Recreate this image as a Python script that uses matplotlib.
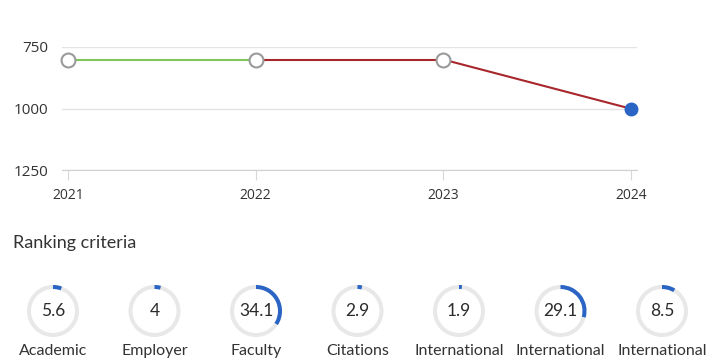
import matplotlib.pyplot as plt
from matplotlib.patches import Wedge

plt.rcParams['font.family'] = ['Lato', 'DejaVu Sans']

# rank history
years = [2021, 2022, 2023, 2024]
ranks = [801, 801, 801, 1001]
seg_colors = ['#7cc65a', '#a8272d', '#a8272d']

# ranking criteria scores
criteria = ['Academic', 'Employer', 'Faculty', 'Citations',
            'International', 'International', 'International']
scores = [5.6, 4, 34.1, 2.9, 1.9, 29.1, 8.5]

fig = plt.figure(figsize=(7.2, 3.6), dpi=100)

# --- line chart ---
ax = fig.add_axes([62/720, 1 - 170/360, 575/720, 123/360])
for i in range(len(years) - 1):
    ax.plot(years[i:i+2], ranks[i:i+2], color=seg_colors[i], lw=1.5, zorder=2)
ax.plot(years[:-1], ranks[:-1], 'o', ms=10, mfc='white', mec='#9a9a9a',
        mew=1.5, zorder=3, clip_on=False)
ax.plot(years[-1:], ranks[-1:], 'o', ms=9, color='#2a64c5', zorder=3, clip_on=False)

ax.set_xlim(2020.968, 2024.032)
ax.set_ylim(1250, 750)
ax.set_yticks([750, 1000, 1250])
ax.set_xticks(years)
ax.grid(axis='y', color='#e3e3e3', lw=1)
ax.set_axisbelow(True)
for s in ['top', 'right', 'left']:
    ax.spines[s].set_visible(False)
ax.spines['bottom'].set_color('#d0d0d0')
ax.tick_params(axis='y', length=0, pad=10, labelsize=11, labelcolor='#333333')
ax.tick_params(axis='x', length=7, color='#d8d8d8', pad=6, labelsize=10,
               labelcolor='#333333')
for lab in ax.get_xticklabels() + ax.get_yticklabels():
    lab.set_family(['Open Sans', 'DejaVu Sans'])

# --- criteria donuts ---
ov = fig.add_axes([0, 0, 1, 1])
ov.set_xlim(0, 720)
ov.set_ylim(360, 0)
ov.axis('off')

ov.text(13, 243, 'Ranking criteria', fontsize=13, color='#333333', va='center')

cx0, step, cy, r = 53, 101.5, 311, 26
for i, (name, val) in enumerate(zip(criteria, scores)):
    cx = cx0 + i * step
    ov.add_patch(Wedge((cx, cy), r, 0, 360, width=4, color='#e8e8e8', lw=0))
    # clockwise from top (y axis is flipped)
    ov.add_patch(Wedge((cx, cy), r, -90, -90 + val / 100 * 360, width=4,
                       color='#2a64c5', lw=0))
    ov.text(cx, cy, f'{val:g}', ha='center', va='center', fontsize=12.5,
            color='#2b2b2b')
    ov.text(cx, 351, name, ha='center', va='center', fontsize=11.5,
            color='#333333')

fig.savefig('out.png', dpi=100, facecolor='white')
